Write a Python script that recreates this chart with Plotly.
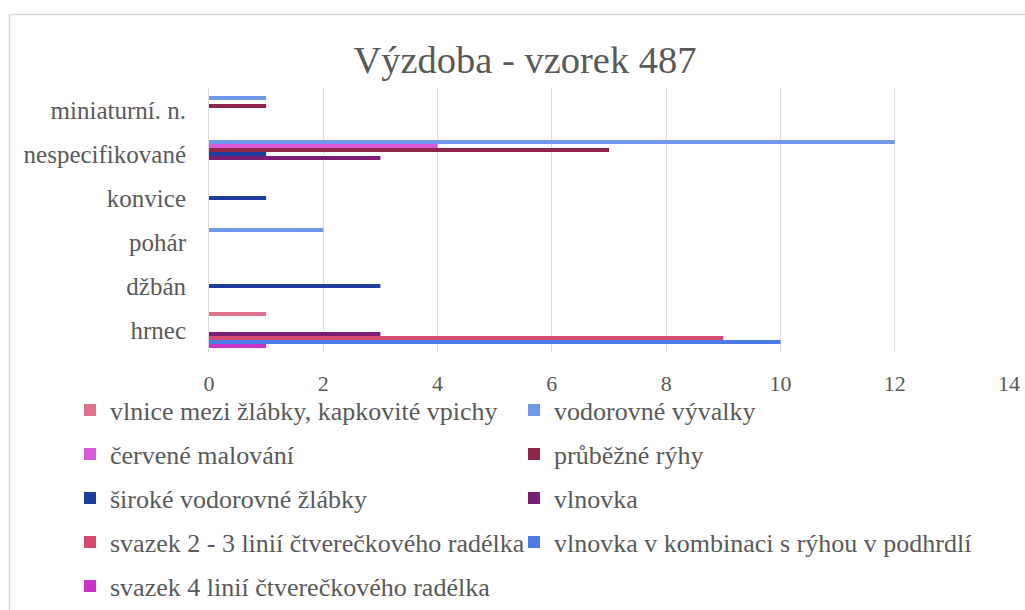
import plotly.graph_objects as go

categories = ["miniaturní. n.", "nespecifikované", "konvice", "pohár", "džbán", "hrnec"]

series_names = [
    "vlnice mezi žlábky, kapkovité vpichy",
    "vodorovné vývalky",
    "červené malování",
    "průběžné rýhy",
    "široké vodorovné žlábky",
    "vlnovka",
    "svazek 2 - 3 linií čtverečkového radélka",
    "vlnovka v kombinaci s rýhou v podhrdlí",
    "svazek 4 linií čtverečkového radélka",
]

# values per category, in the order of `categories`
vlnice_mezi_zlabky = [None, None, None, None, None, 1]
vodorovne_vyvalky = [1, 12, None, 2, None, None]
cervene_malovani = [None, 4, None, None, None, None]
prubezne_ryhy = [1, 7, None, None, None, None]
siroke_zlabky = [None, 1, 1, None, 3, None]
vlnovka = [None, 3, None, None, None, 3]
svazek_2_3 = [None, None, None, None, None, 9]
vlnovka_kombinace = [None, None, None, None, None, 10]
svazek_4 = [None, None, None, None, None, 1]

series_values = [
    vlnice_mezi_zlabky, vodorovne_vyvalky, cervene_malovani, prubezne_ryhy,
    siroke_zlabky, vlnovka, svazek_2_3, vlnovka_kombinace, svazek_4,
]

colors = ["#e07290", "#7298ea", "#d85ad8", "#8e2447", "#1f3f9e",
          "#7a1e74", "#d64a72", "#4a7be6", "#c933c9"]

FONT = "Liberation Serif"
GRAY = "#595959"
GRID = "#d9d9d9"

W, H = 1025, 610

fig = go.Figure()
legend_ids = [f"legend{i}" for i in range(2, 11)]
for i, (name, vals, col) in enumerate(zip(series_names, series_values, colors)):
    fig.add_trace(go.Bar(
        name=name, y=categories, x=vals, orientation="h",
        marker=dict(color=col, line=dict(width=0)),
        legend=legend_ids[i],
    ))

row_y = [410, 454, 498, 542, 586]
col_x = [70, 514]
legend_layout = {}
for i, lid in enumerate(legend_ids):
    r, c = divmod(i, 2)
    legend_layout[lid] = dict(
        x=col_x[c] / W, y=1 - row_y[r] / H,
        xref="container", yref="container",
        xanchor="left", yanchor="middle", orientation="h",
        font=dict(family=FONT, size=26, color=GRAY),
        bgcolor="rgba(0,0,0,0)", borderwidth=0, itemwidth=30,
    )

pl, pr, pt, pb = 209, 16, 88, 258
ph = H - pt - pb
pw = W - pl - pr

def px_x(p):
    return (p - pl) / pw

def px_y(p):
    return (H - pb - p) / ph

fig.update_layout(
    width=W, height=H,
    margin=dict(l=pl, r=pr, t=pt, b=pb, autoexpand=False),
    paper_bgcolor="white", plot_bgcolor="white",
    barmode="group", bargap=0.18, bargroupgap=0,
    title=dict(text="Výzdoba - vzorek 487", x=525 / W, y=1 - 60 / H,
               xanchor="center", yanchor="middle",
               font=dict(family=FONT, size=38.5, color=GRAY)),
    xaxis=dict(range=[0, 14], dtick=2, showgrid=True, gridcolor=GRID, gridwidth=1,
               zeroline=False, showline=False, ticks="",
               tickfont=dict(family=FONT, size=22, color=GRAY),
               ticklabelstandoff=16, fixedrange=True),
    yaxis=dict(autorange="reversed", showgrid=False, showline=True, linecolor=GRID,
               linewidth=1, ticks="",
               tickfont=dict(family=FONT, size=25, color=GRAY),
               ticklabelstandoff=17, fixedrange=True),
    shapes=[
        dict(type="line", xref="paper", yref="paper",
             x0=px_x(9.5), x1=px_x(1030), y0=px_y(14.5), y1=px_y(14.5),
             line=dict(color=GRID, width=1.5)),
        dict(type="line", xref="paper", yref="paper",
             x0=px_x(9.5), x1=px_x(9.5), y0=px_y(14.5), y1=px_y(615),
             line=dict(color=GRID, width=1.5)),
    ],
    **legend_layout,
)

fig.write_html("out.html", config={"displayModeBar": False},
               post_script="document.body.style.margin='0';")
